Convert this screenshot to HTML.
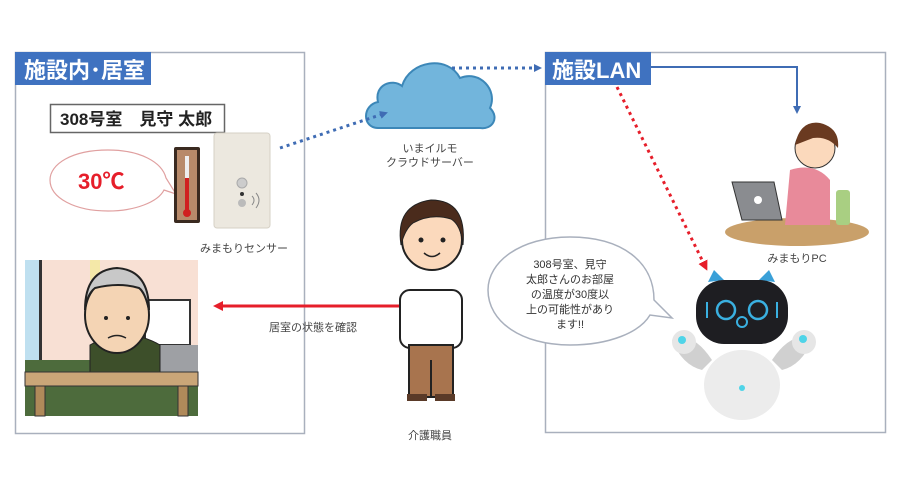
<!DOCTYPE html>
<html><head><meta charset="utf-8"><style>
html,body{margin:0;padding:0;background:#fff;width:900px;height:490px;overflow:hidden}
svg{display:block}
text{font-family:"Liberation Sans","Noto Sans CJK JP",sans-serif}
</style></head><body>
<svg width="900" height="490" viewBox="0 0 900 490" xmlns="http://www.w3.org/2000/svg">
<defs>
<marker id="ab" markerWidth="8" markerHeight="8" refX="6" refY="4" orient="auto" markerUnits="userSpaceOnUse"><path d="M0,0 L8,4 L0,8z" fill="#3f6cb4"/></marker>
<marker id="ar" markerWidth="10" markerHeight="10" refX="7" refY="5" orient="auto" markerUnits="userSpaceOnUse"><path d="M0,0 L10,5 L0,10z" fill="#e61e2a"/></marker>
</defs>
<!-- boxes -->
<rect x="15.5" y="52.5" width="289" height="381" fill="none" stroke="#a9b0bd" stroke-width="1.5"/>
<rect x="545.5" y="52.5" width="340" height="380" fill="none" stroke="#a9b0bd" stroke-width="1.5"/>
<rect x="15" y="52" width="136" height="33" fill="#3f72c0"/>
<text x="24" y="78" font-size="22" font-weight="bold" fill="#fff">施設内･居室</text>
<rect x="545" y="52" width="106" height="33" fill="#3f72c0"/>
<text x="552" y="78" font-size="22" font-weight="bold" fill="#fff">施設LAN</text>
<!-- name box -->
<rect x="50.5" y="104.5" width="174" height="28" fill="#fff" stroke="#666" stroke-width="1.5"/>
<text x="60" y="125" font-size="17" font-weight="bold" fill="#222">308号室　見守 太郎</text>
<!-- speech bubble 30C -->
<path d="M108,150 C72,150 50,164 50,180 C50,198 75,211 108,211 C135,211 158,202 164,190 L176,194 L166,178 C162,162 140,150 108,150z" fill="#fff" stroke="#e0a0a0" stroke-width="1.2"/>
<text x="78" y="189" font-size="22" font-weight="bold" fill="#e61e2a">30℃</text>
<!-- thermometer -->
<rect x="174" y="147" width="26" height="76" rx="2" fill="#3a2a20"/>
<rect x="177" y="150" width="20" height="70" fill="#b88a6a"/>
<rect x="185" y="156" width="4" height="54" fill="#eee"/>
<rect x="185" y="178" width="4" height="34" fill="#d02020"/>
<circle cx="187" cy="213" r="4" fill="#d02020"/>
<!-- sensor -->
<rect x="214" y="133" width="56" height="95" rx="3" fill="#ece8df" stroke="#d6d1c6"/>
<circle cx="242" cy="183" r="5" fill="#ccc" stroke="#aaa"/>
<circle cx="242" cy="194" r="2" fill="#333"/>
<circle cx="242" cy="203" r="4" fill="#bbb"/>
<path d="M252,196 q4,4 0,9 M256,193 q6,7 0,15" fill="none" stroke="#888"/>
<text x="200" y="252" font-size="11" fill="#444">みまもりセンサー</text>
<!-- elderly picture -->
<rect x="25" y="260" width="173" height="156" fill="#f8e0d4"/>
<rect x="25" y="260" width="14" height="100" fill="#bfe0f0"/>
<rect x="39" y="260" width="3" height="100" fill="#333"/>
<rect x="90" y="260" width="10" height="20" fill="#f4e8a8"/>
<rect x="25" y="360" width="173" height="56" fill="#4d6b3c"/>
<rect x="145" y="300" width="45" height="45" fill="#fff" stroke="#333" stroke-width="2"/>
<rect x="135" y="345" width="63" height="35" fill="#9ea0a4"/>
<path d="M90,345 q35,-20 70,0 v30 h-70z" fill="#3d4f2a" stroke="#222"/>
<ellipse cx="117" cy="315" rx="32" ry="38" fill="#f4d4b4" stroke="#222" stroke-width="2"/>
<path d="M85,310 q0,-40 32,-42 q32,2 32,42 q-4,-18 -10,-22 q-20,-6 -44,0 q-8,6 -10,22z" fill="#c8c8c8" stroke="#222" stroke-width="2"/>
<circle cx="106" cy="318" r="2" fill="#222"/><circle cx="128" cy="318" r="2" fill="#222"/>
<path d="M108,338 q9,-5 18,0" fill="none" stroke="#222" stroke-width="1.5"/>
<rect x="25" y="372" width="173" height="14" fill="#caa678" stroke="#333"/>
<rect x="35" y="386" width="10" height="30" fill="#b08a5a" stroke="#333"/>
<rect x="178" y="386" width="10" height="30" fill="#b08a5a" stroke="#333"/>
<!-- red arrow -->
<line x1="400" y1="306" x2="216" y2="306" stroke="#e61e2a" stroke-width="3" marker-end="url(#ar)"/>
<text x="269" y="331" font-size="11" fill="#444">居室の状態を確認</text>
<!-- cloud -->
<path d="M378,128 C362,128 362,105 378,102 C374,85 392,78 402,86 C410,60 448,55 460,78 C480,70 498,90 490,108 C500,118 492,130 480,128 Z" fill="#72b5dc" stroke="#3c87b8" stroke-width="2"/>
<text x="430" y="152" font-size="11" fill="#444" text-anchor="middle">いまイルモ</text>
<text x="430" y="166" font-size="11" fill="#444" text-anchor="middle">クラウドサーバー</text>
<line x1="280" y1="148" x2="386" y2="113" stroke="#3f6cb4" stroke-width="3" stroke-dasharray="3,4" marker-end="url(#ab)"/>
<line x1="452" y1="68" x2="540" y2="68" stroke="#3f6cb4" stroke-width="3" stroke-dasharray="3,4" marker-end="url(#ab)"/>
<!-- LAN line to PC -->
<polyline points="651,67 797,67 797,112" fill="none" stroke="#3f6cb4" stroke-width="2" marker-end="url(#ab)"/>
<!-- red dotted -->
<line x1="617" y1="87" x2="706" y2="268" stroke="#e61e2a" stroke-width="3" stroke-dasharray="3,4" marker-end="url(#ar)"/>
<!-- man -->
<rect x="400" y="290" width="62" height="58" rx="10" fill="#fff" stroke="#222" stroke-width="2"/>
<rect x="409" y="345" width="44" height="52" fill="#a8744e" stroke="#222" stroke-width="2"/>
<line x1="431" y1="360" x2="431" y2="397" stroke="#222" stroke-width="2"/>
<rect x="407" y="394" width="20" height="7" fill="#5a3a28"/><rect x="435" y="394" width="20" height="7" fill="#5a3a28"/>
<circle cx="432" cy="240" r="30" fill="#fbd9bc" stroke="#222" stroke-width="2"/>
<path d="M401,245 q-6,-40 30,-45 q36,0 32,45 q-2,-20 -12,-26 q-20,-6 -38,4 q-8,6 -12,22z" fill="#4a2b1c" stroke="#222"/>
<circle cx="421" cy="240" r="2.5" fill="#222"/><circle cx="443" cy="240" r="2.5" fill="#222"/>
<path d="M424,253 q8,7 16,0" fill="none" stroke="#222" stroke-width="1.5"/>
<text x="430" y="439" font-size="11" fill="#444" text-anchor="middle">介護職員</text>
<!-- woman pc -->
<ellipse cx="797" cy="232" rx="72" ry="14" fill="#c9a06a"/>
<path d="M790,170 q25,-8 40,10 v45 h-45z" fill="#e88a9a"/>
<rect x="836" y="190" width="14" height="35" rx="3" fill="#a9cf82"/>
<circle cx="815" cy="148" r="20" fill="#fbd9bc" stroke="#333"/>
<path d="M795,145 q5,-25 25,-22 q20,5 18,25 q-10,-12 -25,-10 z" fill="#6a3a20"/>
<path d="M732,182 h42 l8,38 h-40z" fill="#8a8c90" stroke="#333"/>
<circle cx="758" cy="200" r="4" fill="#fff"/>
<text x="797" y="262" font-size="11" fill="#444" text-anchor="middle">みまもりPC</text>
<!-- speech bubble robot -->
<path d="M570,237 C520,237 488,262 488,290 C488,322 522,345 570,345 C610,345 640,332 650,315 L672,318 L654,300 C654,262 622,237 570,237z" fill="#fff" stroke="#a9b0bd" stroke-width="1.5"/>
<text font-size="11" fill="#333" text-anchor="middle"><tspan x="570" y="268">308号室、見守</tspan><tspan x="570" y="283">太郎さんのお部屋</tspan><tspan x="570" y="298">の温度が30度以</tspan><tspan x="570" y="313">上の可能性があり</tspan><tspan x="570" y="328">ます!!</tspan></text>
<!-- robot -->
<ellipse cx="742" cy="385" rx="38" ry="35" fill="#ececec"/>
<path d="M672,340 q20,-10 40,20 l-10,10 q-20,-5 -30,-30z" fill="#d0d0d0"/>
<path d="M812,340 q-20,-10 -40,20 l10,10 q20,-5 30,-30z" fill="#d0d0d0"/>
<circle cx="684" cy="342" r="12" fill="#e6e6e6"/><circle cx="682" cy="340" r="4" fill="#4fd4e8"/>
<circle cx="804" cy="342" r="12" fill="#e6e6e6"/><circle cx="803" cy="339" r="4" fill="#4fd4e8"/>
<path d="M708,282 l6,-12 l10,10z M775,282 l-6,-12 l-10,10z" fill="#3aa0d8"/>
<rect x="696" y="280" width="92" height="64" rx="28" fill="#1e1e22"/>
<circle cx="726" cy="310" r="9" fill="none" stroke="#3ab0e0" stroke-width="2.5"/>
<circle cx="758" cy="310" r="9" fill="none" stroke="#3ab0e0" stroke-width="2.5"/>
<circle cx="742" cy="322" r="5" fill="none" stroke="#3ab0e0" stroke-width="2"/>
<line x1="707" y1="302" x2="707" y2="318" stroke="#3ab0e0" stroke-width="2"/>
<line x1="777" y1="302" x2="777" y2="318" stroke="#3ab0e0" stroke-width="2"/>
<circle cx="742" cy="388" r="3" fill="#4fd4e8"/>
</svg>
</body></html>
